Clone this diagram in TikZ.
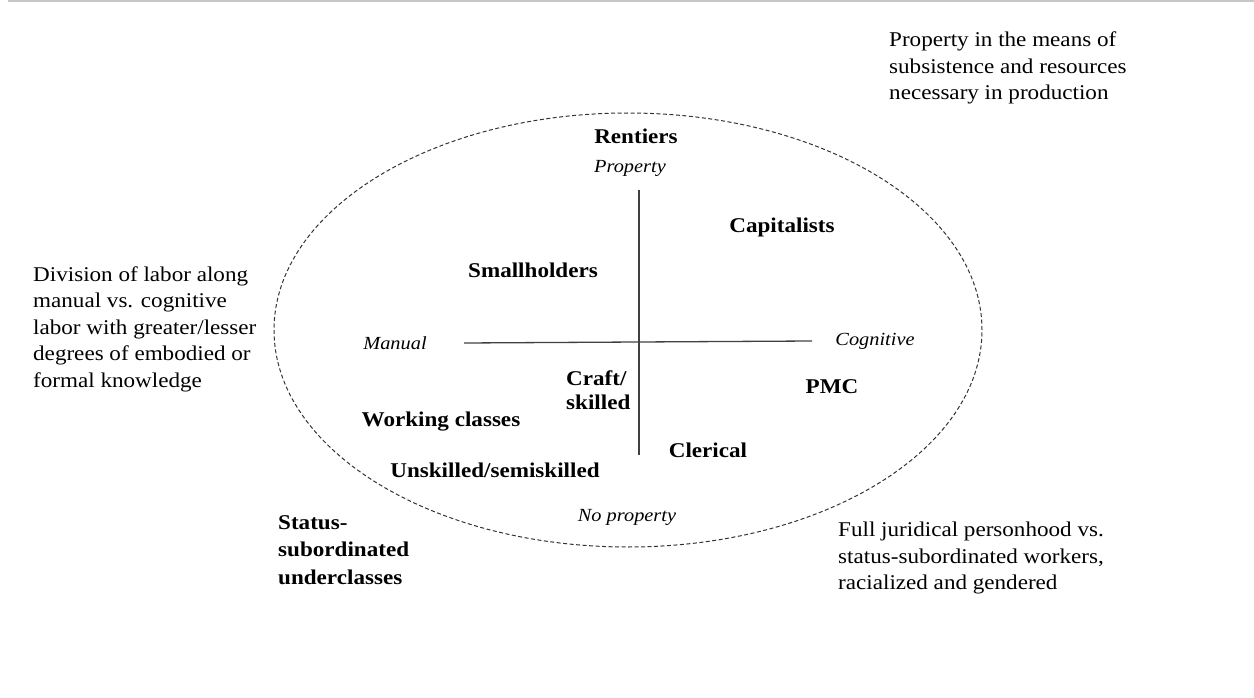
\documentclass[tikz,border=0pt]{standalone}
\usepackage{fontspec}
\setmainfont[FakeStretch=1.1]{Liberation Serif}
\begin{document}
\begin{tikzpicture}[x=1pt,y=-1pt,
  note/.style={align=left,inner sep=0pt,font=\fontsize{21}{26.5}\selectfont},
  cls/.style={inner sep=0pt,font=\fontsize{21}{24}\selectfont\bfseries},
  axlab/.style={inner sep=0pt,font=\fontsize{18.5}{22}\selectfont\itshape},
  axis/.style={draw=black!75,line width=1.3pt},
  oval/.style={draw=black!80,line width=1pt,dash pattern=on 4pt off 2.5pt}]
\useasboundingbox (0,0) rectangle (1254,698);
\draw[draw=black!22,line width=2pt] (8,1) -- (1254,1);
\draw[oval] (628,330) ellipse [x radius=354pt, y radius=217pt];
\coordinate (vtop) at (639,190);
\coordinate (vbot) at (639,455);
\coordinate (hleft) at (464,343);
\coordinate (hright) at (812,341);
\draw[axis] (vtop) -- (vbot);
\draw[axis] (hleft) -- (hright);
\node[note,anchor=west] (propnote) at (889,68) {Property in the means of\\subsistence and resources\\necessary in production};
\node[note,anchor=west] (divnote) at (33,329) {Division of labor along\\manual vs. cognitive\\labor with greater/lesser\\degrees of embodied or\\formal knowledge};
\node[note,anchor=west] (fullnote) at (838,558) {Full juridical personhood vs.\\status-subordinated workers,\\racialized and gendered};
\node[cls] (rentiers) at (636,136) {Rentiers};
\node[axlab] (property) at (630,168) {Property};
\node[cls] (capitalists) at (782,227) {Capitalists};
\node[cls] (smallholders) at (533,270) {Smallholders};
\node[axlab] (manual) at (395,343) {Manual};
\node[axlab] (cognitive) at (875,341) {Cognitive};
\node[cls,align=left,anchor=west] (craft) at (566,390) {Craft/\\skilled};
\node[cls] (pmc) at (832,387) {PMC};
\node[cls] (working) at (441,422) {Working classes};
\node[cls] (clerical) at (708,450) {Clerical};
\node[cls] (unskilled) at (495,470) {Unskilled/semiskilled};
\node[axlab] (noprop) at (627,517) {No property};
\node[cls,align=left,anchor=west,font=\fontsize{21}{27.5}\selectfont\bfseries] (status) at (278,550) {Status-\\subordinated\\underclasses};
\end{tikzpicture}
\end{document}
